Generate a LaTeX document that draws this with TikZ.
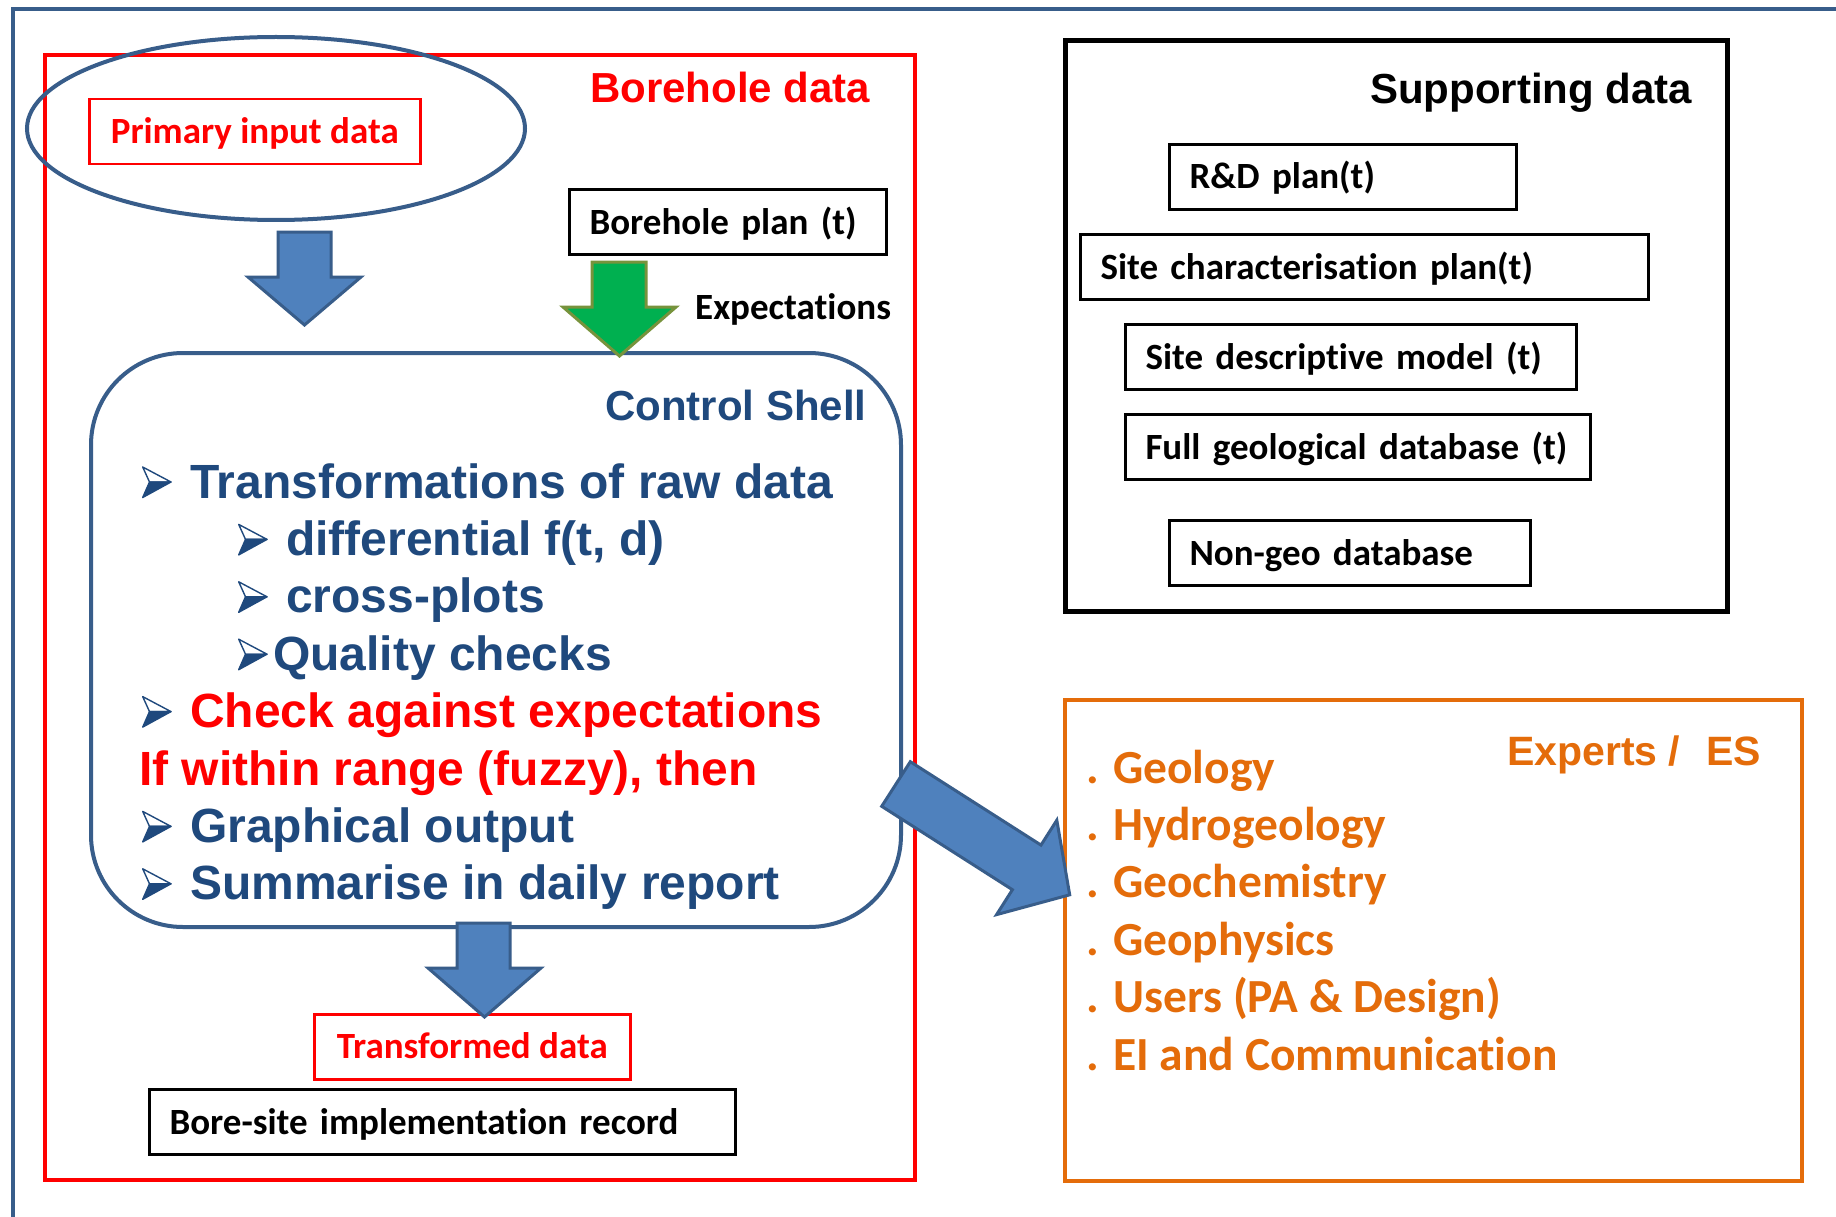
\documentclass[tikz,border=0pt]{standalone}
\usepackage{fontspec}
\setmainfont{Liberation Sans}
\newfontfamily\calfont[Ligatures=NoCommon]{Carlito}
\usetikzlibrary{shapes.geometric}
\definecolor{frameblue}{RGB}{56,93,138}
\definecolor{arrowfill}{RGB}{79,129,189}
\definecolor{textblue}{RGB}{31,73,125}
\definecolor{expred}{RGB}{255,0,0}
\definecolor{exporange}{RGB}{228,108,10}
\definecolor{greenfill}{RGB}{0,176,80}
\definecolor{greenline}{RGB}{119,147,60}
% Wingdings-like 3D arrowhead bullet; #1 = left x, #2 = baseline y
\newcommand\wbul[2]{%
  \begin{scope}[shift={(#1,#2)}]
    \filldraw[fill=white, draw=textblue, line width=1.4pt, line join=round] (0.7,-31) -- (29,-16) -- (7.5,-16) -- cycle;
    \filldraw[fill=textblue, draw=textblue, line width=1.4pt, line join=round] (7.5,-16) -- (29,-16) -- (0.7,-0.5) -- cycle;
  \end{scope}}
\begin{document}
\begin{tikzpicture}[x=1pt,y=-1pt,
  bigtitle/.style={font=\bfseries\fontsize{42}{50}\selectfont, anchor=base west, inner sep=0pt},
  cal/.style={font=\calfont\bfseries\fontsize{37}{44}\selectfont},
  databox/.style={cal, draw=black, line width=3pt, anchor=north west, minimum height=65pt,
     text height=24pt, text depth=0pt, inner xsep=20pt, inner ysep=0pt, align=left},
  redtextbox/.style={cal, draw=expred, line width=2.5pt, text=expred, anchor=north west, minimum height=65pt,
     text height=24pt, text depth=0pt, inner xsep=0pt, inner ysep=0pt},
  bultext/.style={font=\bfseries\fontsize{48}{56}\selectfont, anchor=base west, inner sep=0pt, text=textblue},
  expitem/.style={font=\calfont\bfseries\fontsize{47.5}{56}\selectfont, anchor=base west, inner sep=0pt, text=exporange},
  blockarrow/.style={fill=arrowfill, draw=frameblue, line width=3pt, line join=miter},
  greenarrow/.style={fill=greenfill, draw=greenline, line width=3pt, line join=miter}
]
\useasboundingbox (0,0) rectangle (1836,1217);
\fill[white] (0,0) rectangle (1836,1217);

% outer frame
\coordinate (ftr) at (1836,9);
\coordinate (ftl) at (13,9);
\coordinate (fbl) at (13,1217);
\draw[frameblue, line width=4pt] (ftr) -- (ftl) -- (fbl);

% borehole data frame
\node[draw=expred, line width=4pt, anchor=north west, minimum width=870pt, minimum height=1125pt, inner sep=0pt] (redframe) at (43,53) {};
\node[bigtitle, text=expred] (boretitle) at (590,103) {Borehole data};

% ellipse with primary input data
\node[ellipse, draw=frameblue, line width=4pt, minimum width=498pt, minimum height=183pt, inner sep=0pt] (ell) at (276,128.5) {};
\node[redtextbox, minimum width=331pt] (prim) at (88,98) {Primary input data};

% borehole plan
\node[databox, text width=277pt] (plan) at (568,188) {Borehole plan (t)};
\node[cal, anchor=base west, inner sep=0pt] (expect) at (695,319) {Expectations};

% control shell
\node[draw=frameblue, line width=4pt, rounded corners=92pt, anchor=north west, minimum width=810pt, minimum height=574pt, inner sep=0pt] (shell) at (89,351) {};
\node[bigtitle, text=textblue] (shelltitle) at (605,420) {Control Shell};

\wbul{142}{498}
\node[bultext] (t1) at (190,498) {Transformations of raw data};
\wbul{238}{555.4}
\node[bultext] (t2) at (286,555.4) {differential f(t, d)};
\wbul{238}{612.8}
\node[bultext] (t3) at (286,612.8) {cross-plots};
\wbul{238}{670.2}
\node[bultext] (t4) at (273,670.2) {Quality checks};
\wbul{142}{727.6}
\node[bultext, text=expred] (t5) at (190,727.6) {Check against expectations};
\node[bultext, text=expred] (t6) at (139,785) {If within range (fuzzy), then};
\wbul{142}{842.4}
\node[bultext] (t7) at (190,842.4) {Graphical output};
\wbul{142}{899.8}
\node[bultext] (t8) at (190,899.8) {Summarise in daily report};

% transformed data and record
\node[redtextbox, minimum width=316pt] (trans) at (313,1013) {Transformed data};
\node[databox, text width=546pt] (record) at (148,1088) {Bore-site implementation record};

% block arrows
\draw[blockarrow] (278,232) -- (331,232) -- (331,277) -- (361,277) -- (304.5,325) -- (248,277) -- (278,277) -- cycle;
\draw[greenarrow] (592,262) -- (646,262) -- (646,307) -- (676,307) -- (619.5,356) -- (563,307) -- (592,307) -- cycle;
\draw[blockarrow] (457,923) -- (510,923) -- (510,968) -- (541,968) -- (484.5,1017) -- (428,968) -- (457,968) -- cycle;

% supporting data
\node[draw=black, line width=5pt, anchor=north west, minimum width=662pt, minimum height=571pt, inner sep=0pt] (supframe) at (1063,38) {};
\node[bigtitle, text=black] (suptitle) at (1370,104) {Supporting data};
\node[databox, text width=307pt] (rd) at (1168,143) {R\&D plan(t)};
\node[databox, text width=528pt] (sitechar) at (1079,233) {Site characterisation plan(t)};
\node[databox, text width=411pt] (sitedesc) at (1124,323) {Site descriptive model (t)};
\node[databox, text width=425pt] (fullgeo) at (1124,413) {Full geological database (t)};
\node[databox, text width=321pt] (nongeo) at (1168,519) {Non-geo database};

% experts
\node[draw=exporange, line width=4pt, anchor=north west, minimum width=737pt, minimum height=481pt, inner sep=0pt] (expframe) at (1063,698) {};
\node[font=\bfseries\fontsize{41}{48}\selectfont, anchor=base west, inner sep=0pt, text=exporange] (exptitle) at (1507,765) {Experts /\hspace{26pt}ES};
\node[expitem] (e1) at (1086,783) {. Geology};
\node[expitem] (e2) at (1086,840.4) {. Hydrogeology};
\node[expitem] (e3) at (1086,897.8) {. Geochemistry};
\node[expitem] (e4) at (1086,955.2) {. Geophysics};
\node[expitem] (e5) at (1086,1012.6) {. Users (PA \& Design)};
\node[expitem] (e6) at (1086,1070) {. EI and Communication};

% diagonal arrow
\draw[blockarrow] (910.3,761.7) -- (1041.0,845.1) -- (1056.8,820.2) -- (1069.7,894.8) -- (996.6,914.6) -- (1012.4,889.7) -- (881.7,806.3) -- cycle;
\end{tikzpicture}
\end{document}
